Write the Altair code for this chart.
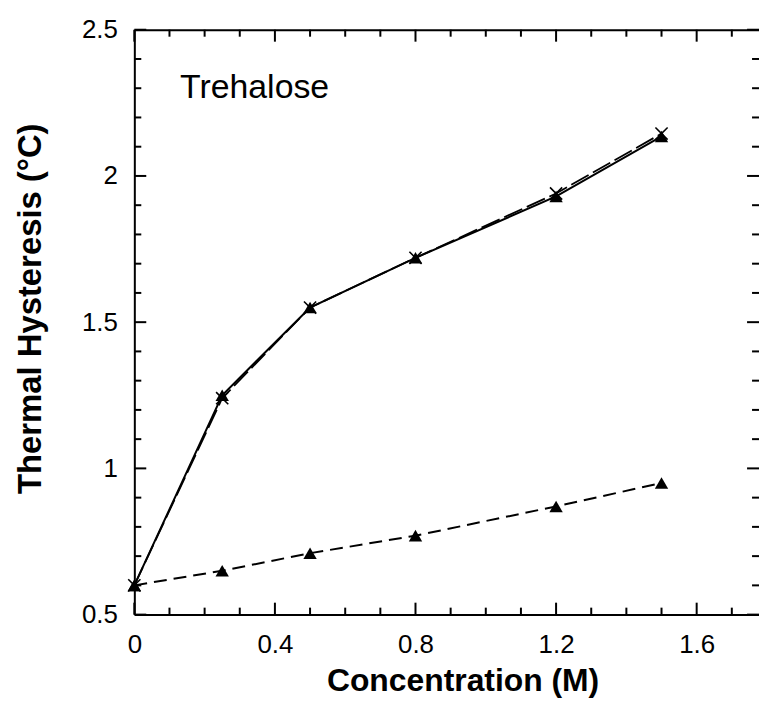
import altair as alt
import pandas as pd

# ---- data ----
concentration = [0.0, 0.25, 0.5, 0.8, 1.2, 1.5]
hysteresis_solid = [0.60, 1.25, 1.55, 1.72, 1.93, 2.135]          # solid line, triangles
hysteresis_dashed_upper = [0.60, 1.24, 1.55, 1.72, 1.94, 2.145]   # long-dash line, crosses
hysteresis_dashed_lower = [0.60, 0.65, 0.71, 0.77, 0.87, 0.95]    # dashed line, triangles

x_label_values = [0, 0.4, 0.8, 1.2, 1.6]
y_label_values = [0.5, 1, 1.5, 2, 2.5]
x_minor_values = [0.1, 0.2, 0.3, 0.5, 0.6, 0.7, 0.9, 1.0, 1.1, 1.3, 1.4, 1.5, 1.7]
y_minor_values = [0.6, 0.7, 0.8, 0.9, 1.1, 1.2, 1.3, 1.4, 1.6, 1.7, 1.8, 1.9,
                  2.1, 2.2, 2.3, 2.4]
annotation = ["Trehalose"]
x_title = "Concentration (M)"
y_title = "Thermal Hysteresis (°C)"

FONT = "Liberation Sans"
W, H = 628, 588
MAJOR, MINOR = 12, 7

df_solid = pd.DataFrame({"c": concentration, "th": hysteresis_solid})
df_up = pd.DataFrame({"c": concentration, "th": hysteresis_dashed_upper})
df_low = pd.DataFrame({"c": concentration, "th": hysteresis_dashed_lower})
df_txt = pd.DataFrame({"label": annotation})

x_scale = alt.Scale(domain=[0, 1.8], range=[0, 636], nice=False, zero=False)
y_scale = alt.Scale(domain=[0.5, 2.5], nice=False, zero=False)

# label axes (bottom / left) carrying the frame lines
ax_x_labels = alt.Axis(orient="bottom", values=x_label_values, format="~g",
                       ticks=False, tickSize=0, domain=True, domainColor="black",
                       domainWidth=2, grid=False, labelFont=FONT, labelFontSize=26,
                       labelColor="black", labelPadding=17, labelFlush=False,
                       labelOverlap=False, title=x_title, titleFont=FONT,
                       titleFontSize=32, titleFontWeight="bold", titleColor="black",
                       titleX=330, titleY=76, titleAlign="center",
                       titleBaseline="alphabetic")
ax_y_labels = alt.Axis(orient="left", values=y_label_values, format="~g",
                       ticks=False, tickSize=0, domain=True, domainColor="black",
                       domainWidth=2, grid=False, labelFont=FONT, labelFontSize=26,
                       labelColor="black", labelPadding=17, labelFlush=False,
                       labelOverlap=False, title=y_title, titleFont=FONT,
                       titleFontSize=33, titleFontWeight="bold", titleColor="black",
                       titleX=-104, titleY=280, titleAngle=270, titleAlign="center",
                       titleBaseline="middle")
# top frame line
ax_x_top = alt.Axis(orient="top", labels=False, ticks=False, tickSize=0, domain=True,
                    domainColor="black", domainWidth=2, grid=False, title=None)


def xy(chart, ax_x=None, ax_y=None):
    return chart.encode(
        x=alt.X("c:Q", scale=x_scale, axis=ax_x, title=None),
        y=alt.Y("th:Q", scale=y_scale, axis=ax_y, title=None),
    )


line_solid = alt.Chart(df_solid).mark_line(color="black", strokeWidth=2).encode(
    x=alt.X("c:Q", scale=x_scale, axis=ax_x_labels),
    y=alt.Y("th:Q", scale=y_scale, axis=ax_y_labels),
)
line_up = xy(alt.Chart(df_up).mark_line(color="black", strokeWidth=1.8,
                                        strokeDash=[20, 5]), ax_x_top, None)
line_low = xy(alt.Chart(df_low).mark_line(color="black", strokeWidth=2,
                                          strokeDash=[13, 7]))

pts_solid = xy(alt.Chart(df_solid).mark_point(shape="triangle-up", filled=True,
                                               color="black", size=180, opacity=1))
pts_up = xy(alt.Chart(df_up).mark_point(shape="M-1,-1L1,1M-1,1L1,-1", filled=False,
                                         color="black", strokeWidth=1.6, size=150,
                                         opacity=1))
pts_low = xy(alt.Chart(df_low).mark_point(shape="triangle-up", filled=True,
                                           color="black", size=180, opacity=1))


# inward ticks on all four sides, positioned through the shared scales
def x_ticks(values, length):
    d = pd.DataFrame({"v": values})
    base = alt.Chart(d).mark_rule(color="black", strokeWidth=2)
    bottom = base.encode(x=alt.X("v:Q", scale=x_scale, axis=None),
                         y=alt.value(H), y2=alt.value(H - length))
    top = base.encode(x=alt.X("v:Q", scale=x_scale, axis=None),
                      y=alt.value(0), y2=alt.value(length))
    return [bottom, top]


def y_ticks(values, length):
    d = pd.DataFrame({"v": values})
    base = alt.Chart(d).mark_rule(color="black", strokeWidth=2)
    left = base.encode(y=alt.Y("v:Q", scale=y_scale, axis=None),
                       x=alt.value(0), x2=alt.value(length))
    right = base.encode(y=alt.Y("v:Q", scale=y_scale, axis=None),
                        x=alt.value(W), x2=alt.value(W - length))
    return [left, right]


tick_layers = (x_ticks(x_label_values, MAJOR) + x_ticks(x_minor_values, MINOR)
               + y_ticks(y_label_values, MAJOR) + y_ticks(y_minor_values, MINOR))

label = alt.Chart(df_txt).mark_text(align="left", baseline="alphabetic", font=FONT,
                                    fontSize=34, color="black").encode(
    x=alt.value(46), y=alt.value(69), text="label:N")

chart = alt.layer(
    line_solid, line_up, line_low, *tick_layers, pts_solid, pts_up, pts_low, label
).resolve_axis(x="independent", y="independent").properties(
    width=W, height=H,
    autosize=alt.AutoSizeParams(type="none"),
    padding={"left": 127, "top": 20, "right": 0, "bottom": 84},
).configure_view(strokeOpacity=0).configure(background="white")

chart.save("out.html", embed_options={"renderer": "svg", "actions": False})
